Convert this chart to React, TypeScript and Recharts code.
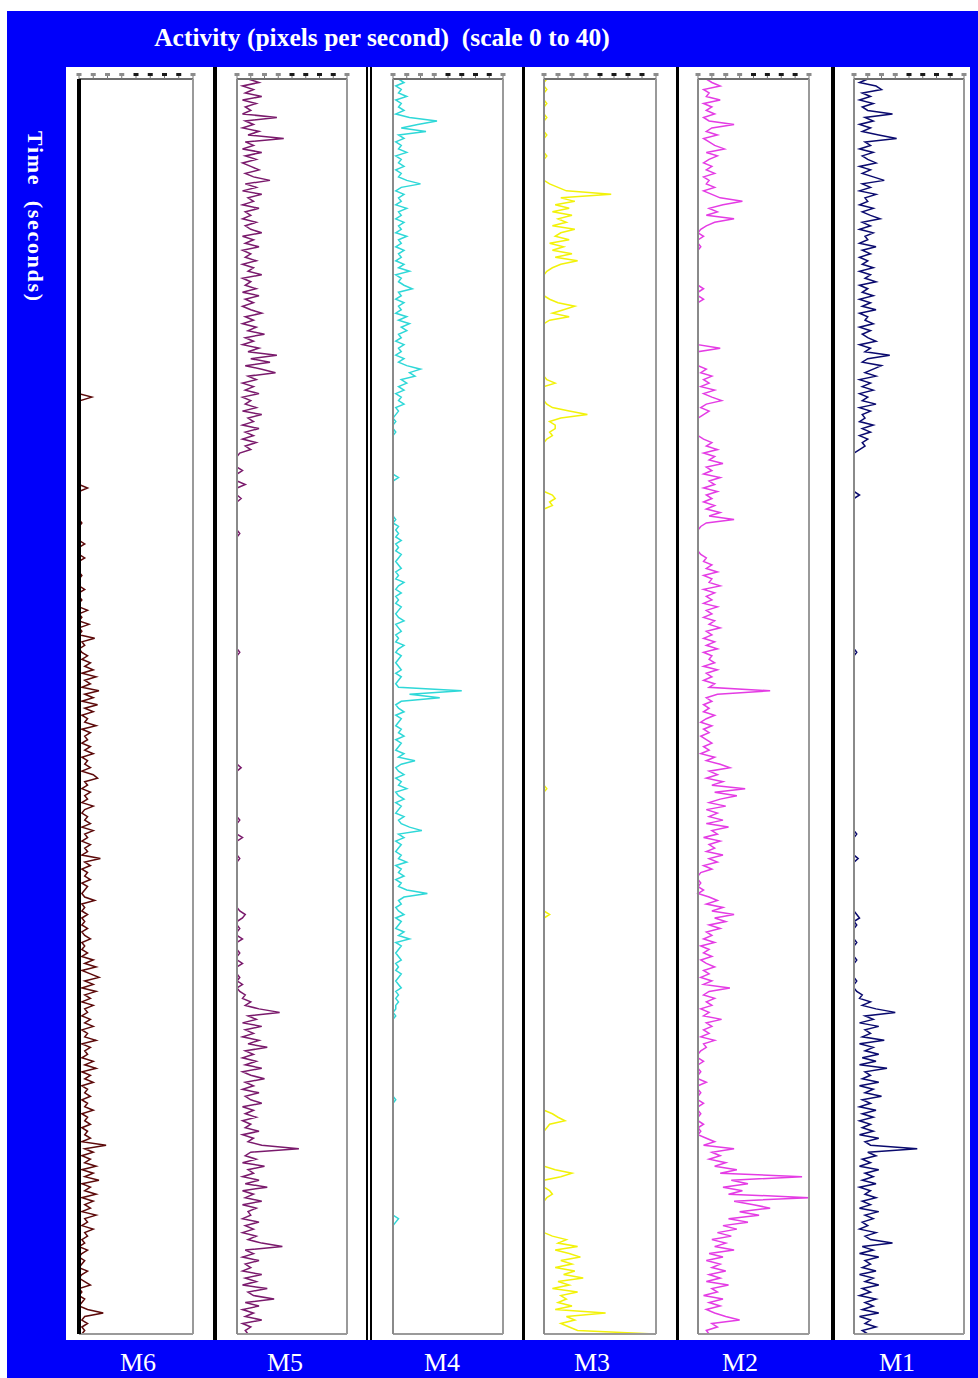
import React from "react";
import { LineChart, Line, XAxis, YAxis } from "recharts";

// activity per time step (pixels per second), 360 steps top -> bottom
const m6 = [
  0, 0, 0, 0, 0, 0, 0, 0, 0, 0,
  0, 0, 0, 0, 0, 0, 0, 0, 0, 0,
  0, 0, 0, 0, 0, 0, 0, 0, 0, 0,
  0, 0, 0, 0, 0, 0, 0, 0, 0, 0,
  0, 0, 0, 0, 0, 0, 0, 0, 0, 0,
  0, 0, 0, 0, 0, 0, 0, 0, 0, 0,
  0, 0, 0, 0, 0, 0, 0, 0, 0, 0,
  0, 0, 0, 0, 0, 0, 0, 0, 0, 0,
  0, 0, 0, 0, 0, 0, 0, 0, 0, 0,
  0, 4.5, 0.5, 0, 0, 0, 0, 0, 0, 0,
  0, 0, 0, 0, 0, 0, 0, 0, 0, 0,
  0, 0, 0, 0, 0, 0, 0, 3, 0, 0,
  0, 0, 0, 0, 0, 0, 0, 1, 0, 0,
  0, 0, 0, 2, 0, 0, 0, 2, 0, 0,
  0, 0, 1, 0, 0, 0, 2, 0, 0, 1,
  0, 0, 3, 0, 1, 0, 3.5, 0, 1, 0,
  5.5, 1, 2, 0, 1, 3, 1, 4, 2, 5,
  1, 6, 2, 4, 1, 7, 2, 5, 1, 6.5,
  2, 5, 1, 3, 2, 6, 1, 4, 2, 3,
  1, 4, 2, 5, 1, 3, 2, 4, 1, 5,
  6.5, 2, 3, 1, 4, 2, 3, 1, 5, 2,
  1, 3, 2, 4, 1, 5, 2, 3, 1, 4,
  2, 3, 1, 7.5, 2, 4, 1, 3, 2, 4,
  1, 3, 2, 1, 2, 5.5, 1, 2, 1, 3,
  1, 2, 1, 3, 1, 2, 4, 1, 2, 1,
  3, 1, 5, 2, 6, 1, 4, 7, 2, 5,
  1, 6, 2, 4, 1, 5, 2, 3, 1, 4,
  2, 5, 1, 3, 2, 6, 1, 4, 2, 3,
  1, 5, 2, 6, 1, 4, 2, 5, 1, 3,
  2, 4, 1, 3, 2, 5, 1, 3, 2, 4,
  1, 3, 2, 4, 1, 9.5, 2, 5, 1, 4,
  2, 6, 1, 5, 2, 7, 1, 4, 2, 6,
  1, 5, 2, 4, 1, 6, 2, 3, 1, 5,
  2, 3, 1, 2, 0, 3, 1, 0, 2, 1,
  0, 3, 1, 0, 2, 4, 0, 1, 0, 2,
  1, 0, 3, 8.5, 2, 1, 3, 1, 2, 1,
];

const m5 = [
  4, 8, 2, 6, 3, 9, 2, 7, 3, 5,
  2, 14.5, 3, 6, 2, 8, 4, 17, 3, 6,
  2, 9, 3, 7, 2, 5, 8, 3, 6, 12,
  3, 7, 2, 9, 4, 6, 2, 8, 3, 5,
  2, 7, 3, 5, 9, 2, 6, 3, 8, 2,
  5, 3, 7, 2, 6, 4, 9, 2, 5, 3,
  7, 2, 8, 3, 6, 2, 5, 9, 3, 6,
  2, 7, 4, 10, 3, 6, 2, 8, 4, 14.5,
  5, 12, 3, 9, 14, 4, 7, 2, 6, 3,
  8, 2, 5, 3, 7, 2, 9, 4, 6, 2,
  8, 3, 6, 2, 7, 3, 5, 1, 0, 0,
  0, 0, 2, 0, 0, 0, 3, 0, 0, 0,
  1.5, 0, 0, 0, 0, 0, 0, 0, 0, 0,
  1, 0, 0, 0, 0, 0, 0, 0, 0, 0,
  0, 0, 0, 0, 0, 0, 0, 0, 0, 0,
  0, 0, 0, 0, 0, 0, 0, 0, 0, 0,
  0, 0, 0, 0, 1, 0, 0, 0, 0, 0,
  0, 0, 0, 0, 0, 0, 0, 0, 0, 0,
  0, 0, 0, 0, 0, 0, 0, 0, 0, 0,
  0, 0, 0, 0, 0, 0, 0, 1.5, 0, 0,
  0, 0, 0, 0, 0, 0, 0, 0, 0, 0,
  0, 0, 1, 0, 0, 0, 0, 2, 0, 0,
  0, 0, 0, 1, 0, 0, 0, 0, 0, 0,
  0, 0, 0, 0, 0, 0, 0, 0, 1, 3,
  2, 0, 0, 1, 0, 0, 2, 0, 0, 0,
  1, 0, 0, 2, 0, 0, 0, 1, 0, 2,
  0, 1, 3, 2, 5, 3, 8, 15.5, 4, 7,
  2, 9, 3, 6, 2, 8, 4, 11, 3, 6,
  2, 7, 3, 9, 2, 5, 10, 3, 6, 2,
  8, 3, 5, 9, 2, 6, 3, 7, 2, 5,
  3, 8, 2, 6, 4, 9, 22.5, 5, 3, 7,
  2, 10, 4, 6, 2, 8, 3, 11, 2, 6,
  3, 9, 2, 7, 4, 5, 2, 8, 3, 6,
  2, 7, 4, 9, 16.5, 3, 6, 2, 8, 3,
  5, 2, 9, 3, 7, 2, 11, 4, 6, 13.5,
  3, 8, 2, 6, 3, 9, 2, 5, 3, 4,
];

const m4 = [
  2, 4, 1, 3, 2, 5, 1, 3, 2, 4,
  1, 6, 16, 9, 3, 12, 2, 4, 1, 3,
  2, 5, 1, 3, 2, 4, 1, 3, 2, 5,
  10, 3, 1, 4, 2, 3, 1, 5, 2, 3,
  1, 4, 2, 3, 1, 5, 2, 3, 1, 4,
  2, 3, 1, 4, 2, 6, 1, 3, 2, 4,
  7, 2, 3, 1, 4, 2, 3, 1, 5, 2,
  6, 3, 5, 2, 3, 1, 4, 2, 3, 1,
  4, 2, 5, 10, 6, 8, 3, 5, 2, 4,
  1, 3, 2, 4, 1, 2, 1, 0, 1, 0,
  0, 1, 0, 0, 0, 0, 0, 0, 0, 0,
  0, 0, 0, 0, 2, 0, 0, 0, 0, 0,
  0, 0, 0, 0, 0, 0, 1, 0, 2, 1,
  2, 1, 3, 1, 2, 1, 3, 2, 1, 2,
  3, 1, 2, 1, 4, 2, 1, 3, 1, 2,
  1, 3, 2, 1, 2, 4, 1, 2, 3, 1,
  2, 1, 4, 2, 1, 3, 2, 1, 2, 3,
  1, 3, 2, 1, 2, 25, 6, 17, 3, 1,
  2, 4, 1, 3, 2, 1, 3, 2, 4, 1,
  3, 2, 1, 4, 2, 8, 3, 1, 2, 4,
  1, 3, 2, 5, 1, 2, 4, 1, 3, 2,
  1, 4, 2, 3, 6, 10.5, 2, 4, 1, 3,
  2, 1, 3, 2, 5, 1, 3, 2, 4, 1,
  3, 2, 5, 12.5, 4, 2, 3, 1, 2, 4,
  1, 3, 2, 1, 4, 2, 6, 1, 3, 2,
  1, 2, 3, 1, 2, 1, 3, 2, 1, 2,
  3, 1, 2, 1, 2, 1, 1, 0, 1, 0,
  0, 0, 0, 0, 0, 0, 0, 0, 0, 0,
  0, 0, 0, 0, 0, 0, 0, 0, 0, 0,
  0, 0, 1, 0, 0, 0, 0, 0, 0, 0,
  0, 0, 0, 0, 0, 0, 0, 0, 0, 0,
  0, 0, 0, 0, 0, 0, 0, 0, 0, 0,
  0, 0, 0, 0, 0, 0, 2, 1, 0, 0,
  0, 0, 0, 0, 0, 0, 0, 0, 0, 0,
  0, 0, 0, 0, 0, 0, 0, 0, 0, 0,
  0, 0, 0, 0, 0, 0, 0, 0, 0, 0,
];

const m3 = [
  1, 0, 0, 1, 0, 0, 0, 1, 0, 0,
  0, 1, 0, 0, 0, 0, 1, 0, 0, 0,
  0, 0, 1, 0, 0, 0, 0, 0, 0, 0,
  2, 5, 8, 24, 6, 11, 4, 9, 3, 10,
  5, 8, 3, 11, 6, 4, 9, 2, 7, 3,
  10, 4, 12, 6, 3, 1, 0, 0, 0, 0,
  0, 0, 0, 2, 5, 11, 7, 3, 9, 2,
  0, 0, 0, 0, 0, 0, 0, 0, 0, 0,
  0, 0, 0, 0, 0, 0, 1, 4, 0, 0,
  0, 0, 0, 1, 3, 9, 15.5, 6, 2, 4,
  4, 2, 3, 1, 0, 0, 0, 0, 0, 0,
  0, 0, 0, 0, 0, 0, 0, 0, 0, 3,
  4, 2, 3, 0, 0, 0, 0, 0, 0, 0,
  0, 0, 0, 0, 0, 0, 0, 0, 0, 0,
  0, 0, 0, 0, 0, 0, 0, 0, 0, 0,
  0, 0, 0, 0, 0, 0, 0, 0, 0, 0,
  0, 0, 0, 0, 0, 0, 0, 0, 0, 0,
  0, 0, 0, 0, 0, 0, 0, 0, 0, 0,
  0, 0, 0, 0, 0, 0, 0, 0, 0, 0,
  0, 0, 0, 0, 0, 0, 0, 0, 0, 0,
  0, 0, 0, 1, 0, 0, 0, 0, 0, 0,
  0, 0, 0, 0, 0, 0, 0, 0, 0, 0,
  0, 0, 0, 0, 0, 0, 0, 0, 0, 0,
  0, 0, 0, 0, 0, 0, 0, 0, 0, 2,
  0, 0, 0, 0, 0, 0, 0, 0, 0, 0,
  0, 0, 0, 0, 0, 0, 0, 0, 0, 0,
  0, 0, 0, 0, 0, 0, 0, 0, 0, 0,
  0, 0, 0, 0, 0, 0, 0, 0, 0, 0,
  0, 0, 0, 0, 0, 0, 0, 0, 0, 0,
  0, 0, 0, 0, 0, 0, 3, 5, 7.5, 2,
  1, 0, 0, 0, 0, 0, 0, 0, 0, 0,
  0, 0, 4, 10, 6, 0, 0, 0, 2, 3,
  1, 0, 0, 0, 0, 0, 0, 0, 0, 0,
  0, 3, 8, 5, 12, 4, 9, 13, 6, 10,
  4, 11, 7, 14, 5, 9, 3, 12, 6, 8,
  5, 10, 4, 22, 8, 11, 6, 9, 12, 39.5,
];

const m2 = [
  3, 5, 8, 2, 4, 3, 8, 2, 5, 3,
  6, 2, 4, 13, 5, 3, 7, 2, 4, 6,
  9.5, 3, 7, 4, 2, 5, 3, 6, 2, 4,
  3, 6, 2, 5, 8, 16, 9, 4, 7, 3,
  13, 6, 3, 1, 0, 2, 0, 0, 1, 0,
  0, 0, 0, 0, 0, 0, 0, 0, 0, 0,
  2, 0, 0, 2, 0, 0, 0, 0, 0, 0,
  0, 0, 0, 0, 0, 0, 0, 8, 0, 0,
  0, 0, 0, 3, 1, 5, 2, 4, 1, 6,
  2, 5, 8.5, 3, 1, 4, 2, 0, 0, 0,
  0, 0, 0, 2, 5, 3, 7, 2, 6, 4,
  9, 3, 5, 2, 8, 4, 6, 2, 7, 3,
  5, 2, 6, 3, 8, 4, 13, 3, 1, 0,
  0, 0, 0, 0, 0, 0, 1, 3, 2, 5,
  3, 7, 2, 5, 4, 8, 2, 6, 3, 5,
  2, 7, 3, 5, 2, 6, 4, 8, 3, 5,
  2, 6, 3, 7, 2, 5, 4, 6, 2, 7,
  3, 5, 2, 6, 4, 26, 7, 3, 5, 2,
  4, 2, 6, 3, 1, 5, 2, 4, 1, 3,
  5, 2, 4, 1, 6, 3, 8, 11.5, 4, 7,
  3, 9, 5, 17, 6, 14, 8, 4, 10, 3,
  7, 4, 9, 3, 11, 5, 7, 2, 8, 4,
  6, 3, 9, 4, 7, 2, 5, 1, 0, 0,
  1, 0, 2, 0, 4, 7, 3, 9, 5, 13,
  6, 10, 4, 8, 3, 5, 2, 6, 1, 4,
  2, 5, 1, 3, 6, 2, 4, 1, 5, 2,
  11.5, 4, 2, 6, 3, 5, 1, 4, 2, 8.5,
  3, 5, 2, 4, 1, 6, 2, 3, 1, 0,
  0, 2, 0, 0, 1, 0, 0, 3, 0, 0,
  1, 0, 0, 2, 0, 0, 1, 0, 0, 2,
  0, 1, 0, 3, 6, 2, 13, 5, 8, 4,
  10, 6, 14, 8, 37.5, 12, 18, 9, 16, 11,
  40, 13, 20, 26, 15, 22, 11, 18, 9, 14,
  7, 12, 5, 10, 6, 13, 4, 9, 3, 8,
  5, 10, 4, 8, 3, 11, 5, 7, 2, 9,
  4, 8, 3, 6, 10, 15, 5, 7, 3, 4,
];

const m1 = [
  5, 2, 8, 10, 3, 6, 2, 7, 3, 5,
  14, 4, 7, 2, 6, 3, 9, 15.5, 4, 6,
  2, 7, 3, 5, 8, 2, 6, 3, 7, 11,
  3, 6, 2, 8, 4, 5, 2, 7, 3, 6,
  9.5, 3, 6, 2, 7, 4, 5, 2, 8, 3,
  6, 2, 5, 3, 7, 2, 6, 4, 8, 2,
  5, 3, 7, 2, 6, 3, 8, 2, 5, 4,
  7, 2, 6, 3, 5, 8, 2, 6, 4, 13,
  5, 3, 10, 7, 4, 8, 2, 6, 3, 7,
  2, 5, 3, 8, 2, 6, 3, 4, 2, 7,
  3, 6, 2, 5, 3, 4, 2, 0, 0, 0,
  0, 0, 0, 0, 0, 0, 0, 0, 0, 2,
  0, 0, 0, 0, 0, 0, 0, 0, 0, 0,
  0, 0, 0, 0, 0, 0, 0, 0, 0, 0,
  0, 0, 0, 0, 0, 0, 0, 0, 0, 0,
  0, 0, 0, 0, 0, 0, 0, 0, 0, 0,
  0, 0, 0, 0, 1, 0, 0, 0, 0, 0,
  0, 0, 0, 0, 0, 0, 0, 0, 0, 0,
  0, 0, 0, 0, 0, 0, 0, 0, 0, 0,
  0, 0, 0, 0, 0, 0, 0, 0, 0, 0,
  0, 0, 0, 0, 0, 0, 0, 0, 0, 0,
  0, 0, 0, 0, 0, 0, 1, 0, 0, 0,
  0, 0, 0, 1.5, 0, 0, 0, 0, 0, 0,
  0, 0, 0, 0, 0, 0, 0, 0, 0, 1,
  2, 0, 1, 0, 0, 0, 0, 1, 0, 0,
  0, 0, 1, 0, 0, 0, 0, 0, 1, 0,
  0, 1, 3, 2, 6, 3, 8, 15, 4, 7,
  2, 9, 4, 6, 3, 11, 2, 7, 4, 9,
  3, 8, 2, 12, 4, 6, 3, 9, 2, 7,
  4, 10, 3, 6, 2, 8, 3, 7, 2, 6,
  3, 7, 2, 9, 4, 6, 23, 5, 8, 3,
  6, 2, 9, 4, 7, 3, 8, 2, 6, 4,
  8, 3, 6, 2, 9, 4, 7, 3, 5, 2,
  8, 4, 6, 14, 3, 7, 2, 9, 4, 6,
  3, 8, 2, 7, 4, 9, 3, 6, 2, 8,
  4, 7, 3, 9, 2, 6, 4, 8, 3, 5,
];

const names = ["M6", "M5", "M4", "M3", "M2", "M1"];
const series = [m6, m5, m4, m3, m2, m1];
const colors = ["#5c0a0a", "#7a1a6c", "#2fd8d8", "#f2f20a", "#e43ce4", "#0a0a6e"];
const scaleTicks = [0, 5, 10, 15, 20, 25, 30, 35, 40];

// page geometry
const WHITE = { left: 66, top: 67, width: 904, height: 1273 };
const PLOT_TOP = 79;
const PLOT_BOTTOM = 1334;
const plotX = [
  [79, 193],
  [237, 347],
  [393, 503],
  [544, 656],
  [698, 809],
  [854, 964],
];
const labelX = [138, 285, 442, 592, 740, 897];
const separators = [
  [213, 4],
  [366, 2],
  [370, 2],
  [522, 3],
  [676, 3],
  [831, 4],
];

const AX = 14; // axis band around each plot

const TopTick = (props: any) => {
  const { x, y, payload } = props;
  const dark = payload.value >= 20 && payload.value < 40;
  return <rect x={x - 2.5} y={y - 1} width={5} height={3} fill={dark ? "#1a1a1a" : "#8c8c8c"} />;
};

const BottomTick = (props: any) => {
  const { x, y } = props;
  return (
    <text x={x} y={y + 10} textAnchor="middle" fontSize={10} fill="#666" fontFamily="Liberation Sans">
      0
    </text>
  );
};

function Strip({ values, color, idx }: { values: number[]; color: string; idx: number }) {
  const [l, r] = plotX[idx];
  const data = values.map((v, i) => ({ t: i, v }));
  const w = r - l;
  const h = PLOT_BOTTOM - PLOT_TOP;
  const first = idx === 0;
  return (
    <div style={{ position: "absolute", left: l - WHITE.left - AX, top: PLOT_TOP - WHITE.top - AX }}>
      <LineChart
        layout="vertical"
        width={w + AX * 2}
        height={h + AX * 2}
        data={data}
        margin={{ top: 0, right: 0, bottom: 0, left: 0 }}
      >
        <XAxis
          xAxisId="top"
          orientation="top"
          type="number"
          domain={[0, 40]}
          ticks={scaleTicks}
          height={AX}
          axisLine={{ stroke: "#6e6e6e", strokeWidth: 2 }}
          tickLine={{ stroke: "#777" }}
          tickSize={3}
          tickMargin={2}
          tick={TopTick}
          interval={0}
        />
        <XAxis
          xAxisId="bot"
          orientation="bottom"
          type="number"
          domain={[0, 40]}
          ticks={[20]}
          height={AX}
          axisLine={{ stroke: "#9a9a9a", strokeWidth: 2 }}
          tickLine={false}
          tickSize={0}
          tickMargin={0}
          tick={BottomTick}
        />
        <YAxis
          yAxisId="l"
          orientation="left"
          type="number"
          dataKey="t"
          domain={[0, values.length - 1]}
          width={AX}
          axisLine={{ stroke: first ? "#000" : "#8a8a8a", strokeWidth: first ? 4 : 2 }}
          tick={false}
          tickLine={false}
        />
        <YAxis
          yAxisId="r"
          orientation="right"
          type="number"
          dataKey="t"
          domain={[0, values.length - 1]}
          width={AX}
          axisLine={{ stroke: "#9a9a9a", strokeWidth: 2 }}
          tick={false}
          tickLine={false}
        />
        <Line
          xAxisId="top"
          yAxisId="l"
          type="linear"
          dataKey="v"
          stroke={color}
          strokeWidth={1.5}
          dot={false}
          isAnimationActive={false}
        />
      </LineChart>
    </div>
  );
}

export default function App() {
  const serif = "'Liberation Serif', 'DejaVu Serif', serif";
  return (
    <div style={{ position: "absolute", left: 0, top: 0, width: 978, height: 1378, background: "#fff", overflow: "hidden" }}>
      <div style={{ position: "absolute", left: 7, top: 11, width: 971, height: 1367, background: "#0000fa" }} />
      <div
        style={{
          position: "absolute",
          left: 82,
          width: 600,
          top: 24,
          textAlign: "center",
          color: "#fff",
          fontFamily: serif,
          fontWeight: "bold",
          fontSize: 25.5,
          lineHeight: "28px",
          whiteSpace: "pre",
        }}
      >
        {"Activity (pixels per second)  (scale 0 to 40)"}
      </div>
      <div
        style={{
          position: "absolute",
          left: 17,
          top: 131,
          width: 36,
          writingMode: "vertical-rl",
          color: "#fff",
          fontFamily: serif,
          fontWeight: "bold",
          fontSize: 22,
          lineHeight: "36px",
          letterSpacing: 1.7,
          whiteSpace: "pre",
        }}
      >
        {"Time  (seconds)"}
      </div>
      <div
        style={{
          position: "absolute",
          left: WHITE.left,
          top: WHITE.top,
          width: WHITE.width,
          height: WHITE.height,
          background: "#fff",
          overflow: "hidden",
        }}
      >
        {separators.map(([x, w], i) => (
          <div key={i} style={{ position: "absolute", left: x - WHITE.left, top: 0, width: w, height: WHITE.height, background: "#000" }} />
        ))}
        {series.map((vals, i) => (
          <Strip key={names[i]} values={vals} color={colors[i]} idx={i} />
        ))}
      </div>
      {names.map((n, i) => (
        <div
          key={n}
          style={{
            position: "absolute",
            left: labelX[i] - 40,
            width: 80,
            top: 1349,
            textAlign: "center",
            color: "#fff",
            fontFamily: serif,
            fontSize: 26,
            lineHeight: "28px",
          }}
        >
          {n}
        </div>
      ))}
    </div>
  );
}
